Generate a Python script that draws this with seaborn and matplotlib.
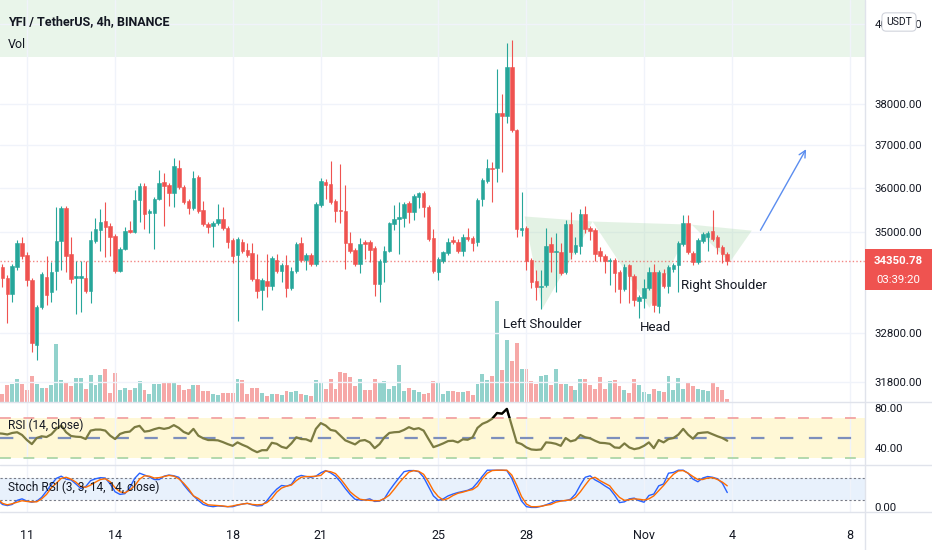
import numpy as np
import pandas as pd
import matplotlib
matplotlib.use("Agg")
import matplotlib.pyplot as plt
import matplotlib.dates as mdates
from matplotlib.patches import Rectangle, Polygon
from matplotlib.lines import Line2D
from matplotlib.ticker import FixedLocator, NullLocator, FuncFormatter, FixedFormatter
import seaborn as sns

# ---- data (YFI/USDT 4h) ----
start_time = "2021-10-10 00:00"

opens = [
    34675, 34213, 33992, 33640, 34213, 34763, 34477, 33948, 32560, 33362,
    34014, 33684, 34146, 34808, 35533, 34499, 33992, 33992, 33992, 33706,
    34808, 35050, 35257, 35142, 34918, 34146, 34631, 35050, 35006, 35717,
    36039, 35418, 35418, 35740, 36131, 36062, 35878, 36476, 36016, 35694,
    35533, 36246, 35487, 35188, 35142, 35211, 35303, 35096, 34830, 34477,
    34786, 34609, 34521, 33970, 33728, 33926, 33816, 34367, 34146, 34257,
    33772, 34146, 34763, 34367, 34477, 34279, 35602, 36131, 36085, 35694,
    35487, 35464, 34763, 34609, 34279, 34786, 34786, 34653, 33860, 34323,
    34587, 35188, 35303, 35326, 35648, 35441, 35786, 35878, 35556, 34874,
    34124, 34345, 34521, 34830, 34786, 34565, 34896, 34874, 34786, 35740,
    36154, 36476, 36476, 37768, 37695, 38912, 37355, 35050, 35096, 34367,
    33926, 33794, 33838, 34741, 34543, 34543, 34124, 35188, 34543, 34697,
    35395, 35096, 35050, 34565, 34455, 34345, 34367, 34124, 33750, 34257,
    34036, 33489, 33551, 33772, 34124, 33383, 34102, 33816, 34190, 34257,
    34741, 35211, 34521, 34323, 34808, 34896, 35028, 34896, 34675, 34499,
]
highs = [
    34830, 34279, 34058, 34279, 34830, 34896, 34543, 33992, 33405, 34124,
    34455, 34323, 35556, 35579, 35579, 34896, 34345, 34345, 34345, 35028,
    35326, 35510, 35671, 35211, 34962, 34675, 35119, 35257, 35947, 36108,
    36108, 35510, 35786, 36430, 36338, 36108, 36699, 36660, 36062, 35740,
    36384, 36292, 35694, 35234, 35257, 35625, 35556, 35142, 34874, 34896,
    34852, 34763, 34763, 34499, 33992, 34499, 34455, 34499, 34301, 34477,
    34213, 34786, 34896, 34521, 34521, 35671, 36223, 36200, 36637, 35740,
    36568, 36062, 35006, 34653, 34874, 34830, 34830, 34697, 34389, 34697,
    35234, 35602, 35671, 35671, 35694, 35855, 35901, 35924, 35602, 35073,
    34433, 34587, 34874, 34918, 34852, 34962, 35096, 34918, 35763, 36223,
    36674, 36614, 38862, 38240, 39509, 39584, 37379, 35901, 35142, 34411,
    34168, 34168, 35096, 34896, 34984, 34763, 35280, 35441, 34896, 35510,
    35579, 35142, 35096, 34675, 34499, 34411, 34411, 34168, 34279, 34279,
    34080, 33617, 33970, 34213, 34279, 34168, 34190, 34257, 34301, 34808,
    35372, 35372, 34565, 34874, 35006, 35028, 35487, 34940, 34719, 34543,
]
lows = [
    33904, 33794, 33025, 33468, 34168, 34389, 33816, 32413, 32244, 33320,
    33405, 33468, 33728, 34168, 34124, 33882, 33215, 33257, 33662, 33447,
    34763, 34565, 34433, 34455, 34102, 34124, 34609, 34984, 34984, 35234,
    35073, 34984, 34631, 35717, 35142, 35579, 35556, 35970, 35625, 35395,
    35487, 35418, 35142, 34984, 34675, 35165, 35050, 34653, 34301, 33067,
    34521, 34433, 33926, 33551, 33299, 33573, 33728, 34102, 33904, 33573,
    33728, 34102, 34323, 34168, 34235, 34235, 35556, 35740, 35625, 35234,
    35211, 34190, 34521, 34235, 34102, 34389, 34323, 33595, 33468, 33904,
    34543, 35050, 34499, 35119, 35211, 35280, 35533, 35349, 34808, 34102,
    33948, 34301, 34477, 34741, 34521, 34455, 34808, 34565, 34697, 35579,
    36108, 35671, 36131, 36361, 37525, 37306, 34896, 34918, 34168, 33772,
    33507, 33320, 33794, 34124, 33684, 34058, 34080, 34389, 34499, 34499,
    34984, 34830, 34345, 34345, 34102, 33838, 33684, 33447, 33706, 33447,
    33383, 33130, 33341, 33728, 33257, 33236, 33772, 33662, 34124, 33684,
    34697, 34499, 34257, 34279, 34763, 34565, 34808, 34499, 34301, 34257,
]
closes = [
    34014, 33992, 33640, 34235, 34763, 34455, 33948, 32603, 33362, 34080,
    33617, 34124, 34808, 35533, 34455, 33970, 34036, 34036, 33706, 34830,
    35073, 35234, 35119, 34896, 34146, 34631, 35028, 35006, 35717, 36039,
    35395, 35464, 35740, 36108, 36039, 35878, 36522, 36016, 35671, 35533,
    36223, 35464, 35188, 35119, 35211, 35303, 35096, 34786, 34455, 34852,
    34565, 34477, 33970, 33706, 33948, 33816, 34411, 34146, 34257, 33772,
    34146, 34741, 34367, 34477, 34279, 35625, 36154, 36062, 35671, 35464,
    35464, 34763, 34565, 34279, 34741, 34741, 34609, 33860, 34345, 34587,
    35211, 35303, 35349, 35625, 35441, 35809, 35878, 35556, 34852, 34146,
    34389, 34543, 34786, 34786, 34565, 34896, 34852, 34763, 35717, 36177,
    36476, 36453, 37768, 37695, 38912, 37355, 35073, 35096, 34345, 33904,
    33794, 33816, 34697, 34543, 34565, 34102, 35188, 34543, 34719, 35395,
    35073, 35028, 34499, 34455, 34345, 34367, 34102, 33750, 34213, 34036,
    33507, 33573, 33772, 34124, 33405, 34124, 33816, 34213, 34257, 34763,
    35211, 34543, 34323, 34830, 34962, 34984, 34852, 34675, 34499, 34350.78,
]
volume = [
    18, 8, 17, 18, 23, 18, 12, 26, 18, 14,
    14, 17, 58, 22, 19, 16, 24, 24, 13, 27,
    17, 27, 33, 9, 29, 12, 14, 12, 14, 21,
    12, 8, 18, 18, 20, 19, 20, 17, 12, 13,
    17, 17, 11, 11, 8, 7, 9, 9, 9, 23,
    22, 8, 14, 14, 9, 6, 8, 8, 7, 11,
    10, 11, 8, 7, 6, 22, 20, 13, 23, 13,
    30, 29, 25, 16, 23, 12, 12, 23, 19, 21,
    13, 16, 37, 11, 14, 12, 10, 8, 9, 21,
    19, 8, 11, 11, 10, 10, 11, 7, 18, 28,
    22, 26, 101, 32, 62, 41, 59, 33, 33, 21,
    18, 26, 27, 17, 33, 18, 18, 16, 12, 23,
    23, 17, 13, 25, 13, 21, 22, 16, 12, 9,
    23, 17, 10, 8, 13, 11, 10, 26, 12, 24,
    13, 20, 16, 13, 12, 11, 19, 15, 12, 3,
]
rsi = [
    54.7, 54.3, 53.5, 55.0, 55.7, 53.0, 48.0, 44.0, 50.0, 51.7,
    51.0, 53.7, 59.0, 62.3, 55.7, 52.0, 51.3, 51.0, 49.0, 57.3,
    58.3, 58.3, 57.3, 52.3, 49.0, 54.0, 55.7, 56.3, 60.7, 62.0,
    56.3, 57.0, 58.7, 60.0, 59.0, 60.0, 62.7, 60.0, 56.0, 54.0,
    59.0, 52.3, 49.7, 48.0, 48.0, 47.7, 46.0, 44.0, 42.3, 45.7,
    43.3, 41.3, 38.3, 36.0, 38.0, 38.0, 45.3, 44.3, 41.3, 40.0,
    44.7, 50.7, 49.0, 48.7, 46.7, 59.0, 64.7, 62.3, 58.0, 57.0,
    52.3, 47.7, 45.7, 43.7, 47.3, 48.0, 45.7, 40.0, 44.0, 50.7,
    55.0, 55.7, 56.0, 58.0, 60.7, 58.7, 59.7, 57.3, 49.0, 41.0,
    42.7, 44.7, 47.0, 47.3, 45.7, 48.7, 48.3, 50.7, 60.0, 64.0,
    66.0, 69.0, 74.7, 74.0, 78.7, 62.3, 45.7, 44.0, 40.7, 38.7,
    38.3, 38.7, 45.7, 45.3, 44.3, 42.3, 50.0, 46.7, 48.0, 53.0,
    50.7, 49.7, 47.3, 45.3, 45.0, 44.3, 40.7, 40.3, 44.7, 40.7,
    39.0, 40.0, 42.3, 45.7, 40.0, 48.0, 45.7, 49.0, 50.0, 53.3,
    59.0, 53.3, 49.3, 54.7, 55.3, 55.7, 53.7, 51.7, 50.0, 47.3,
]
stoch_k = [
    20, 8, 5, 8, 19, 23, 17, 14, 17, 27,
    44, 62, 78, 84, 76, 74, 63, 51, 56, 72,
    77, 80, 79, 63, 42, 35, 37, 53, 78, 92,
    87, 82, 75, 75, 84, 87, 85, 81, 61, 45,
    31, 19, 8, 4, 2, 4, 3, 2, 2, 6,
    9, 11, 7, 4, 5, 18, 35, 49, 59, 57,
    62, 81, 86, 83, 81, 84, 93, 99, 93, 84,
    69, 51, 35, 22, 20, 20, 23, 16, 17, 24,
    45, 63, 80, 96, 99, 99, 96, 81, 56, 31,
    19, 23, 31, 36, 40, 43, 46, 52, 67, 84,
    100, 100, 100, 100, 99, 78, 47, 17, 2, 0,
    0, 3, 7, 12, 18, 18, 18, 22, 36, 60,
    81, 85, 74, 67, 58, 50, 33, 13, 15, 23,
    25, 18, 14, 32, 36, 58, 63, 92, 94, 100,
    100, 92, 76, 69, 79, 83, 81, 77, 65, 40,
]
stoch_d = [
    24, 11, 7, 10, 14, 18, 16, 15, 15, 23,
    35, 53, 65, 78, 81, 76, 68, 56, 54, 60,
    68, 75, 77, 69, 53, 42, 39, 47, 58, 76,
    85, 84, 79, 80, 83, 86, 84, 77, 65, 50,
    31, 24, 14, 7, 6, 5, 4, 2, 4, 7,
    9, 11, 8, 7, 8, 13, 24, 41, 52, 57,
    60, 72, 81, 83, 83, 84, 86, 98, 96, 91,
    77, 60, 42, 31, 22, 20, 19, 18, 18, 24,
    33, 49, 66, 81, 95, 99, 97, 89, 69, 45,
    29, 20, 24, 32, 38, 41, 45, 48, 57, 77,
    92, 99, 100, 100, 100, 87, 60, 29, 9, 2,
    2, 3, 6, 8, 14, 17, 19, 20, 27, 42,
    60, 77, 81, 72, 65, 58, 41, 27, 19, 21,
    23, 22, 20, 23, 31, 45, 59, 75, 89, 98,
    99, 92, 83, 75, 75, 79, 80, 75, 68, 58,
]

price_ticks = [31800, 32800, 35000, 36000, 37000, 38000, 40000]
date_ticks = ["2021-10-11", "2021-10-14", "2021-10-18", "2021-10-21", "2021-10-25",
              "2021-10-28", "2021-11-01", "2021-11-04", "2021-11-08"]
date_labels = ["11", "14", "18", "21", "25", "28", "Nov", "4", "8"]

# head & shoulders drawing (time, price)
hs_times = ["2021-10-27 22:30", "2021-10-28 13:00", "2021-10-30 06:00", "2021-11-01 04:30",
            "2021-11-02 15:00", "2021-11-03 22:00", "2021-11-04 16:00"]
hs_prices = [35350, 33320, 35235, 33340, 35165, 34325, 35030]
arrow_times = ["2021-11-04 22:00", "2021-11-06 13:30"]
arrow_prices = [34985, 36965]

UP = "#26a69a"
DOWN = "#ef5350"
TEXT = "#131722"
GRID = "#f0f3fa"
SEP = "#e0e3eb"

sns.set_theme(style="white")
plt.rcParams["font.family"] = ["Roboto", "DejaVu Sans"]
plt.rcParams["axes.unicode_minus"] = False

W, H = 932, 550
fig = plt.figure(figsize=(W / 100, H / 100), dpi=100)
fig.patch.set_facecolor("white")


def rect(x0, y0, x1, y1):
    return [x0 / W, 1 - y1 / H, (x1 - x0) / W, (y1 - y0) / H]


ax_vol = fig.add_axes(rect(0, 0, 865, 402))
ax = fig.add_axes(rect(0, 0, 865, 402), sharex=ax_vol)
ax_rsi = fig.add_axes(rect(0, 402, 865, 465), sharex=ax_vol)
ax_st = fig.add_axes(rect(0, 465, 865, 512), sharex=ax_vol)
ax.patch.set_visible(False)

times = pd.date_range(start_time, periods=len(closes), freq="4h")
t = mdates.date2num(times.to_pydatetime())
o = np.array(opens, dtype=float)
c = np.array(closes, dtype=float)
colors = [UP if cc >= oo else DOWN for oo, cc in zip(o, c)]
bar_w = 4 / 24 * 0.72

# volume overlay
ax_vol.bar(t, volume, width=4 / 24 * 0.8, color=colors, alpha=0.5, linewidth=0)
ax_vol.set_ylim(0, max(volume) * 3.98)
ax_vol.axis("off")

# candles
ax.set_yscale("log")
ax.vlines(t, lows, highs, colors=colors, linewidth=0.8, zorder=3)
ax.bar(t, np.abs(c - o), bottom=np.minimum(o, c), width=bar_w, color=colors,
       edgecolor=colors, linewidth=0.4, zorder=4)
ax.axhline(closes[-1], color=DOWN, lw=1, ls=(0, (1, 1.6)), alpha=0.7, zorder=2)
ax.axhspan(39150, 42000, color="#e9f5ea", zorder=0, lw=0)

# head & shoulders shading
hs_t = mdates.date2num(pd.to_datetime(hs_times).to_pydatetime())
for i in (0, 2, 4):
    tri = list(zip(hs_t[i:i + 3], hs_prices[i:i + 3]))
    ax.add_patch(Polygon(tri, closed=True, facecolor="#a5d6a7", alpha=0.3, lw=0, zorder=1))
at = mdates.date2num(pd.to_datetime(arrow_times).to_pydatetime())
ax.annotate("", xy=(at[1], arrow_prices[1]), xytext=(at[0], arrow_prices[0]),
            arrowprops=dict(arrowstyle="->", color="#5b8def", lw=1, mutation_scale=12))
ax.text(mdates.date2num(pd.Timestamp("2021-10-28 13:00")), 32985, "Left Shoulder",
        ha="center", va="center", fontsize=9.5, color=TEXT, zorder=5)
ax.text(mdates.date2num(pd.Timestamp("2021-11-01 09:00")), 32920, "Head",
        ha="center", va="center", fontsize=9.5, color=TEXT, zorder=5)
ax.text(mdates.date2num(pd.Timestamp("2021-11-03 17:30")), 33830, "Right Shoulder",
        ha="center", va="center", fontsize=9.5, color=TEXT, zorder=5)

ax.set_ylim(31386, 40612)
ax.yaxis.set_major_locator(FixedLocator(price_ticks))
ax.yaxis.set_minor_locator(NullLocator())
ax.yaxis.set_major_formatter(FuncFormatter(lambda v, p: f"{v:.2f}"))
ax.yaxis.tick_right()
ax.grid(True, color=GRID, lw=1)
ax.tick_params(axis="y", length=0, pad=7, labelsize=8.2, labelcolor=TEXT)
ax.tick_params(axis="x", length=0, labelbottom=False)

x_left = mdates.date2num(pd.Timestamp("2021-10-10 02:00"))
x_right = mdates.date2num(pd.Timestamp("2021-11-08 12:30"))
ax.set_xlim(x_left, x_right)
ax.xaxis.set_major_locator(FixedLocator(mdates.date2num(pd.to_datetime(date_ticks).to_pydatetime())))
ax.xaxis.set_major_formatter(FixedFormatter(date_labels))

# RSI
ax_rsi.axhspan(30, 70, color="#fff8d6", lw=0, zorder=0)
ax_rsi.axhline(70, color="#f2a3a3", lw=1.3, ls=(0, (6, 7)), zorder=1)
ax_rsi.axhline(50, color="#7d8fbc", lw=1.6, ls=(0, (6, 7)), zorder=1)
ax_rsi.axhline(30, color="#acd6a8", lw=1.3, ls=(0, (6, 7)), zorder=1)
sns.lineplot(x=t, y=rsi, ax=ax_rsi, color="#7b7b42", lw=1.6, zorder=3)
sns.lineplot(x=t, y=rsi, ax=ax_rsi, color="black", lw=1.6, zorder=4)
ax_rsi.lines[-1].set_clip_path(Rectangle((x_left, 70), x_right - x_left, 50,
                                         transform=ax_rsi.transData))
ax_rsi.set_ylim(23.4, 85.5)
ax_rsi.yaxis.tick_right()
ax_rsi.set_yticks([80, 40])
ax_rsi.set_yticklabels(["80.00", "40.00"])
ax_rsi.grid(True, axis="x", color=GRID, lw=1)
ax_rsi.grid(False, axis="y")
ax_rsi.tick_params(axis="y", length=0, pad=7, labelsize=8.2, labelcolor=TEXT)
ax_rsi.tick_params(axis="x", length=0, labelbottom=False)
ax_rsi.text(8 / 865, 0.63, "RSI (14, close)", transform=ax_rsi.transAxes,
            fontsize=8.6, color=TEXT, va="center", ha="left", zorder=5)

# Stoch RSI
ax_st.axhspan(20, 80, color="#e8f1fc", lw=0, zorder=0)
ax_st.axhline(80, color="#787b86", lw=0.8, ls=(0, (2, 2)), zorder=1)
ax_st.axhline(20, color="#787b86", lw=0.8, ls=(0, (2, 2)), zorder=1)
sns.lineplot(x=t, y=stoch_k, ax=ax_st, color="#2962ff", lw=1.0, zorder=3)
sns.lineplot(x=t, y=stoch_d, ax=ax_st, color="#ff6d00", lw=1.0, zorder=3)
ax_st.set_ylim(-12.3, 114)
ax_st.yaxis.tick_right()
ax_st.set_yticks([0])
ax_st.set_yticklabels(["0.00"])
ax_st.grid(True, axis="x", color=GRID, lw=1)
ax_st.grid(False, axis="y")
ax_st.tick_params(axis="y", length=0, pad=7, labelsize=8.2, labelcolor=TEXT)
ax_st.tick_params(axis="x", length=0, pad=12, labelsize=9, labelcolor=TEXT)
ax_st.text(8 / 865, 0.53, "Stoch RSI (3, 3, 14, 14, close)", transform=ax_st.transAxes,
           fontsize=8.6, color=TEXT, va="center", ha="left", zorder=5)

for a in (ax, ax_rsi, ax_st):
    a.set_xlabel("")
    a.set_ylabel("")
    for s in a.spines.values():
        s.set_visible(False)

# headers
fig.text(8 / W, 1 - 22 / H, "YFI / TetherUS, 4h, BINANCE", fontsize=9, weight="bold",
         color=TEXT, va="center", ha="left")
fig.text(8 / W, 1 - 45 / H, "Vol", fontsize=9, color=TEXT, va="center", ha="left")

# pane separators
for yy in (402, 465, 512):
    fig.add_artist(Line2D([0, 1], [1 - yy / H] * 2, color=SEP, lw=1, transform=fig.transFigure))
fig.add_artist(Line2D([865 / W] * 2, [0, 1], color=SEP, lw=1, transform=fig.transFigure))

# USDT badge (sits over the 40000.00 label, as on the original chart)
fig.text(899 / W, 1 - 22 / H, "USDT", fontsize=7.5, color=TEXT, ha="center", va="center",
         bbox=dict(boxstyle="round,pad=0.4", fc="white", ec="#d1d4dc", lw=0.8), zorder=10)

# last price label
yd = ax.transData.transform((x_left, closes[-1]))[1]
fig.add_artist(Rectangle((865 / W, (yd - 29) / H), 67 / W, 41 / H, transform=fig.transFigure,
                         facecolor=DOWN, edgecolor="none", zorder=9))
fig.text(898 / W, yd / H, f"{closes[-1]:.2f}", fontsize=8.2, weight="bold", color="white",
         ha="center", va="center", zorder=10)
fig.text(898 / W, (yd - 19) / H, "03:39:20", fontsize=8.2, color="white",
         ha="center", va="center", zorder=10)

fig.savefig("out.png", dpi=100, facecolor="white")
